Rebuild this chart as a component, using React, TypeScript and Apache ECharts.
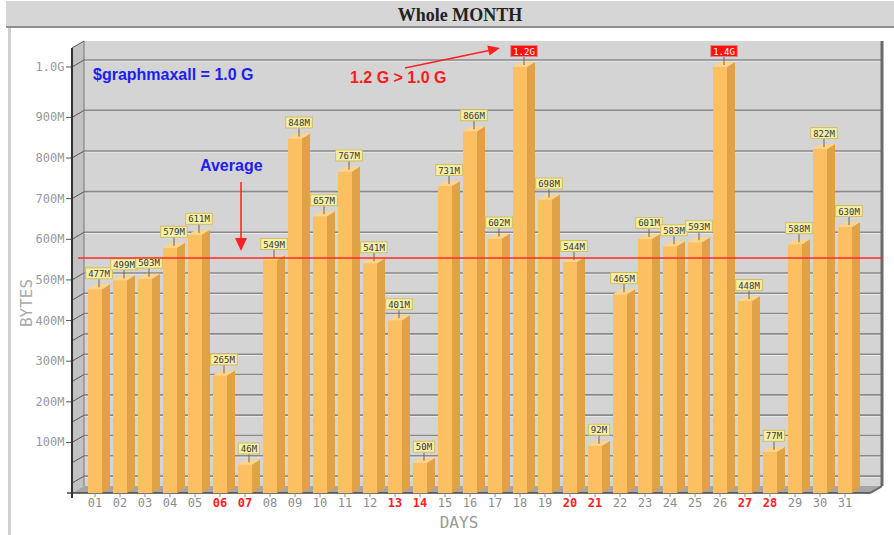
import React, { useEffect, useRef } from 'react';
import * as echarts from 'echarts';

// ---- data ----
const DAYS = ['01','02','03','04','05','06','07','08','09','10','11','12','13','14','15','16','17','18','19','20','21','22','23','24','25','26','27','28','29','30','31'];
const WEEKEND_DAYS = ['06','07','13','14','20','21','27','28'];
const BYTES_M = [477, 499, 503, 579, 611, 265, 46, 549, 848, 657, 767, 541, 401, 50, 731, 866, 602, 1200, 698, 544, 92, 465, 601, 583, 593, 1400, 448, 77, 588, 822, 630];
const GRAPH_MAX = 1024; // $graphmaxall = 1.0 G
const Y_TICK_VALUES = [100, 200, 300, 400, 500, 600, 700, 800, 900, 1024];
const Y_TICK_LABELS = ['100M', '200M', '300M', '400M', '500M', '600M', '700M', '800M', '900M', '1.0G'];
const GRID_VALUES = [0, 50, 100, 150, 200, 250, 300, 350, 400, 450, 500, 600, 700, 800, 900, 1024];

const MONO = '"DejaVu Sans Mono", monospace';
const SANS = '"Liberation Sans", Arial, sans-serif';

const fmtValue = (v: number) => (v >= 1000 ? (v / 1024).toFixed(1) + 'G' : v + 'M');

// depth of the 3D box
const DX = 12;
const DY = 7;

export default function App() {
  const ref = useRef<HTMLDivElement>(null);
  useEffect(() => {
    if (!ref.current) return;
    const chart = echarts.init(ref.current, undefined, { renderer: 'svg' });

    const average = BYTES_M.reduce((s, v) => s + Math.min(v, GRAPH_MAX), 0) / BYTES_M.length;

    const frameRender = (params: any, api: any) => {
      const cs = params.coordSys;
      const ax = cs.x - 10.5;
      const y0 = api.coord([0, 0])[1];
      const floorF = y0 + 10;
      const wallTop = api.coord([0, GRAPH_MAX])[1] - 19;
      const bx = ax + DX;
      const right = cs.x + cs.width + 24.5;
      const ch: any[] = [];
      ch.push({ type: 'rect', shape: { x: bx, y: wallTop - DY, width: right - bx, height: floorF - wallTop }, style: { fill: '#d4d4d4' } });
      ch.push({ type: 'polygon', shape: { points: [[ax, wallTop], [bx, wallTop - DY], [bx, floorF - DY], [ax, floorF]] }, style: { fill: '#c2c2c2' } });
      ch.push({ type: 'polygon', shape: { points: [[ax, floorF], [bx, floorF - DY], [right, floorF - DY], [right - DX, floorF]] }, style: { fill: '#a6a6a6' } });
      GRID_VALUES.forEach((v) => {
        const y = api.coord([0, v])[1];
        ch.push({ type: 'line', shape: { x1: bx, y1: y - DY + 1, x2: right, y2: y - DY + 1 }, style: { stroke: '#f0f0f0', lineWidth: 1 } });
        ch.push({ type: 'line', shape: { x1: bx, y1: y - DY, x2: right, y2: y - DY }, style: { stroke: '#8a8a8a', lineWidth: 1.6 } });
        ch.push({ type: 'line', shape: { x1: ax, y1: y, x2: bx, y2: y - DY }, style: { stroke: '#555', lineWidth: 1 } });
      });
      Y_TICK_VALUES.forEach((v) => {
        const y = api.coord([0, v])[1];
        ch.push({ type: 'line', shape: { x1: ax - 6, y1: y, x2: ax, y2: y }, style: { stroke: '#555', lineWidth: 1 } });
      });
      ch.push({ type: 'line', shape: { x1: bx, y1: wallTop - DY, x2: bx, y2: floorF - DY }, style: { stroke: '#777', lineWidth: 1 } });
      ch.push({ type: 'line', shape: { x1: right, y1: wallTop - DY, x2: right, y2: floorF - DY }, style: { stroke: '#6a6a6a', lineWidth: 3 } });
      ch.push({ type: 'line', shape: { x1: right, y1: floorF - DY, x2: right - DX, y2: floorF }, style: { stroke: '#6a6a6a', lineWidth: 2 } });
      ch.push({ type: 'line', shape: { x1: ax - 5, y1: floorF, x2: right - DX, y2: floorF }, style: { stroke: '#444', lineWidth: 1.5 } });
      ch.push({ type: 'line', shape: { x1: ax, y1: wallTop, x2: ax, y2: floorF + 5 }, style: { stroke: '#333', lineWidth: 2 } });
      ch.push({ type: 'line', shape: { x1: ax, y1: wallTop, x2: bx, y2: wallTop - DY }, style: { stroke: '#555', lineWidth: 1 } });
      DAYS.forEach((_, i) => {
        const x = api.coord([i, 0])[0];
        ch.push({ type: 'line', shape: { x1: x, y1: floorF, x2: x, y2: floorF + 4 }, style: { stroke: '#888', lineWidth: 1 } });
      });
      return { type: 'group', children: ch };
    };

    const barRender = (params: any, api: any) => {
      const i = api.value(0);
      const v = api.value(1);
      const shown = Math.min(v, GRAPH_MAX);
      const [cx, yt] = api.coord([i, shown]);
      const y0 = api.coord([i, 0])[1];
      const yb = y0 + 10;
      const half = 7;
      const bdx = 8;
      const bdy = 5;
      const x0 = cx - half;
      const x1 = cx + half;
      const lx = cx + 4;
      const over = v > GRAPH_MAX;
      return {
        type: 'group',
        children: [
          { type: 'rect', shape: { x: x0, y: yt, width: x1 - x0, height: yb - yt }, style: { fill: '#fcc062' } },
          { type: 'polygon', shape: { points: [[x1, yt], [x1 + bdx, yt - bdy], [x1 + bdx, yb - bdy], [x1, yb]] }, style: { fill: '#e0a245' } },
          { type: 'polygon', shape: { points: [[x0, yt], [x0 + bdx, yt - bdy], [x1 + bdx, yt - bdy], [x1, yt]] }, style: { fill: '#fdd48a' } },
          { type: 'line', shape: { x1: lx, y1: yt - 2, x2: lx, y2: yt - 11 }, style: { stroke: '#666', lineWidth: 1 } },
          {
            type: 'text',
            style: {
              text: fmtValue(v), x: lx, y: yt - 11, align: 'center', verticalAlign: 'bottom',
              font: `9px ${MONO}`, fill: over ? '#ffffff' : '#3a3a3a',
              backgroundColor: over ? '#ff1010' : '#f4eea6', borderColor: over ? '#e08080' : '#d6bf5a', borderWidth: 1,
              padding: [1, 2, 0, 2],
            },
          },
        ],
      };
    };

    const avgRender = (params: any, api: any) => {
      const cs = params.coordSys;
      const y = api.coord([0, average])[1];
      return { type: 'line', shape: { x1: cs.x - 4.5, y1: y, x2: cs.x + cs.width + 24.5, y2: y }, style: { stroke: '#ff2a2a', lineWidth: 1.5 } };
    };

    chart.setOption({
      animation: false,
      backgroundColor: '#ffffff',
      grid: { left: 82.5, right: 36.5, top: 67, bottom: 48, containLabel: false },
      xAxis: {
        type: 'category',
        data: DAYS,
        axisLine: { show: false },
        axisTick: { show: false },
        splitLine: { show: false },
        axisLabel: {
          interval: 0,
          margin: 14,
          fontFamily: MONO,
          fontSize: 12,
          color: '#8c8c8c',
          formatter: (v: string) => (WEEKEND_DAYS.includes(v) ? `{w|${v}}` : v),
          rich: { w: { color: '#ff2020', fontFamily: MONO, fontSize: 12, fontWeight: 'bold' } },
        },
        name: 'DAYS',
        nameLocation: 'middle',
        nameGap: 29,
        nameTextStyle: { fontFamily: MONO, fontSize: 16, color: '#999', padding: [0, 22, 0, 0] },
      },
      yAxis: {
        type: 'value',
        min: 0,
        max: GRAPH_MAX,
        axisLine: { show: false },
        axisTick: { show: false },
        splitLine: { show: false },
        axisLabel: {
          customValues: Y_TICK_VALUES,
          formatter: (v: number) => {
            const k = Y_TICK_VALUES.indexOf(v);
            return k >= 0 ? Y_TICK_LABELS[k] : '';
          },
          margin: 18,
          fontFamily: MONO,
          fontSize: 12,
          color: '#999',
        },
      },
      series: [
        { type: 'custom', z: 1, silent: true, data: [[0, 0]], renderItem: frameRender },
        { type: 'custom', z: 3, data: BYTES_M.map((v, i) => [i, v]), renderItem: barRender },
        { type: 'custom', z: 5, silent: true, data: [[0, 0]], renderItem: avgRender },
      ],
      graphic: [
        { type: 'rect', z: 0, shape: { x: 6, y: 1, width: 888, height: 26 }, style: { fill: '#d6d6d6' } },
        { type: 'line', z: 0, shape: { x1: 6, y1: 27, x2: 894, y2: 27 }, style: { stroke: '#8f8f8f', lineWidth: 2 } },
        { type: 'rect', z: 0, shape: { x: 8, y: 28, width: 3, height: 507 }, style: { fill: '#cfcfcf' } },
        { type: 'text', z: 10, style: { text: 'Whole MONTH', x: 460, y: 15, align: 'center', verticalAlign: 'middle', font: 'bold 18px "Liberation Serif", serif', fill: '#222' } },
        { type: 'text', z: 10, style: { text: 'BYTES', x: 26, y: 303, align: 'center', verticalAlign: 'middle', font: `16px ${MONO}`, fill: '#aaa' }, rotation: Math.PI / 2, x: 0, y: 0, originX: 26, originY: 303 },
        { type: 'text', z: 10, style: { text: '$graphmaxall = 1.0 G', x: 93, y: 74, align: 'left', verticalAlign: 'middle', font: `bold 16px ${SANS}`, fill: '#2020ee' } },
        { type: 'text', z: 10, style: { text: '1.2 G > 1.0 G', x: 350, y: 77, align: 'left', verticalAlign: 'middle', font: `bold 16px ${SANS}`, fill: '#ff1a1a' } },
        { type: 'text', z: 10, style: { text: 'Average', x: 200, y: 165, align: 'left', verticalAlign: 'middle', font: `bold 16px ${SANS}`, fill: '#2020ee' } },
        { type: 'line', z: 10, shape: { x1: 405, y1: 68, x2: 489, y2: 50.5 }, style: { stroke: '#ff2020', lineWidth: 1.5 } },
        { type: 'polygon', z: 10, shape: { points: [[500, 48], [489.5, 55.5], [487.3, 45.5]] }, style: { fill: '#ff2020' } },
        { type: 'line', z: 10, shape: { x1: 241, y1: 182, x2: 241, y2: 240 }, style: { stroke: '#ff2020', lineWidth: 1.5 } },
        { type: 'polygon', z: 10, shape: { points: [[235, 238], [247, 238], [241, 251]] }, style: { fill: '#ff2020' } },
      ],
    });
    return () => chart.dispose();
  }, []);
  return <div ref={ref} style={{ position: 'fixed', left: 0, top: 0, width: 894, height: 535 }} />;
}
